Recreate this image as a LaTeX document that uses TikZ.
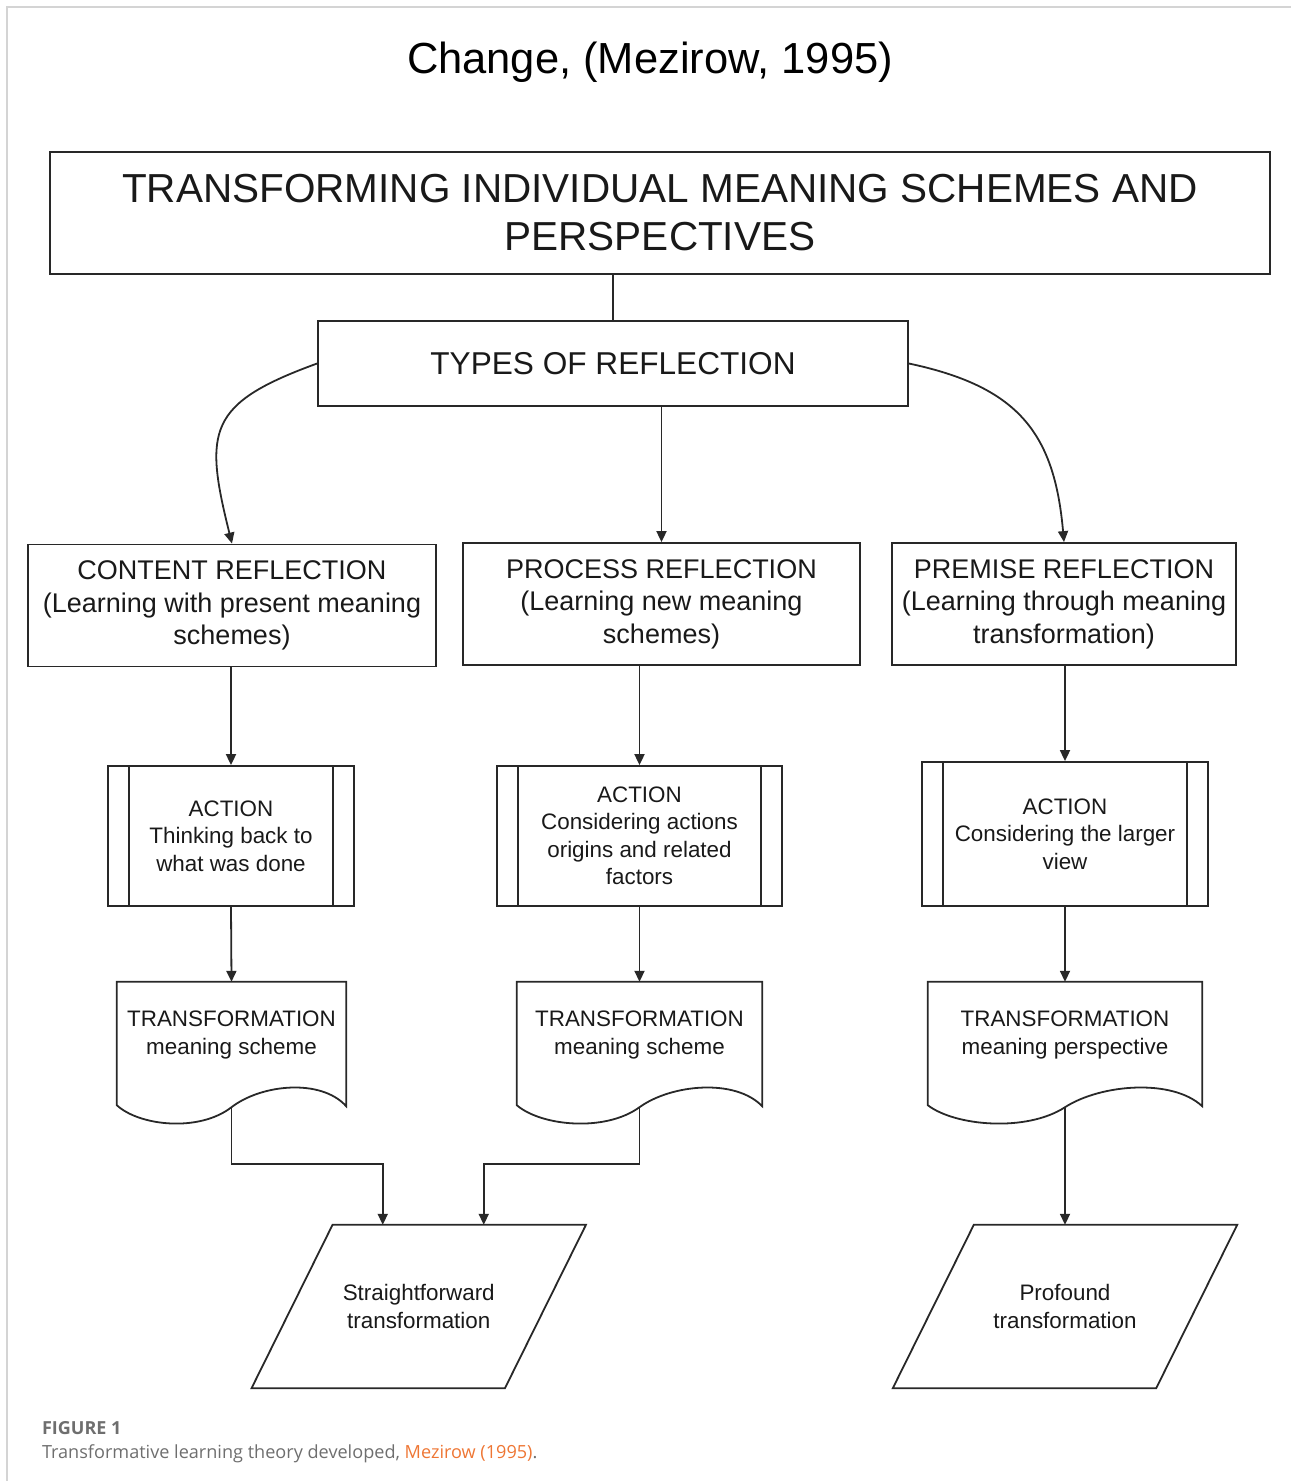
\documentclass[tikz,border=0pt]{standalone}
\usepackage{fontspec}
\setmainfont{Liberation Sans}
\newfontfamily\captionfont{Open Sans}
\usetikzlibrary{positioning, arrows.meta, shapes.geometric, calc}
\definecolor{flowline}{RGB}{40,40,40}
\definecolor{flowtext}{RGB}{25,25,25}
\definecolor{framegray}{RGB}{212,212,212}
\definecolor{capgray}{RGB}{110,110,110}
\definecolor{citeorange}{RGB}{238,118,52}

\begin{document}
\begin{tikzpicture}[x=1pt, y=-1pt,
  box/.style={draw=flowline, line width=1.8pt, inner sep=0pt, align=center, text=flowtext},
  reflbox/.style={box, minimum height=122pt, font=\fontsize{27}{32.5}\selectfont},
  actbox/.style={box, minimum height=140pt, font=\fontsize{22.4}{27.5}\selectfont,
    path picture={\draw[flowline, line width=1.8pt]
      ([xshift=21pt]path picture bounding box.north west) -- ([xshift=21pt]path picture bounding box.south west)
      ([xshift=-21pt]path picture bounding box.north east) -- ([xshift=-21pt]path picture bounding box.south east);}},
  docbox/.style={inner sep=0pt, minimum height=104pt, align=center, text=flowtext, font=\fontsize{22.4}{28}\selectfont},
  parabox/.style={inner sep=0pt, minimum width=334pt, minimum height=163pt, align=center, text=flowtext,
    font=\fontsize{22.4}{27.5}\selectfont},
  flowedge/.style={flowline, line width=1.8pt},
  arrow/.style={flowedge, -{Triangle[length=11pt, width=10pt]}}
]
  \useasboundingbox (0,0) rectangle (1291,1481);
  \draw[framegray, line width=2pt] (7,1481) -- (7,7) -- (1291,7);

  \node[anchor=base, font=\fontsize{43.5}{50}\selectfont] (title) at (650,73) {Change, (Mezirow, 1995)};

  \node[box, minimum width=1220pt, minimum height=122pt, font=\fontsize{40.5}{48}\selectfont] (top) at (660,213)
    {TRANSFORMING INDIVIDUAL MEANING SCHEMES AND\\PERSPECTIVES};
  \node[box, minimum width=590pt, minimum height=85pt, font=\fontsize{31.6}{38}\selectfont] (types) at (613,363.5)
    {TYPES OF REFLECTION};

  \node[reflbox, minimum width=408pt] (content) at (232,605.5) {CONTENT REFLECTION\\(Learning with present meaning\\schemes)};
  \node[reflbox, minimum width=397pt] (process) at (661.5,604) {PROCESS REFLECTION\\(Learning new meaning\\schemes)};
  \node[reflbox, minimum width=344pt] (premise) at (1064,604) {PREMISE REFLECTION\\(Learning through meaning\\transformation)};

  \node[actbox, minimum width=246pt] (act1) at (231,836) {ACTION\\Thinking back to\\what was done};
  \node[actbox, minimum width=285pt] (act2) at (639.5,836) {ACTION\\Considering actions\\origins and related\\factors};
  \node[actbox, minimum width=286pt, minimum height=144pt] (act3) at (1065,834) {ACTION\\Considering the larger\\view};

  \node[docbox, minimum width=229pt] (doc1) at (231.5,1035) {TRANSFORMATION\\meaning scheme};
  \node[docbox, minimum width=245pt] (doc2) at (639.5,1035) {TRANSFORMATION\\meaning scheme};
  \node[docbox, minimum width=274pt] (doc3) at (1065,1035) {TRANSFORMATION\\meaning perspective};

  % document outlines with wavy bottom
  \foreach \d in {doc1,doc2,doc3}
    \draw[flowedge] ([yshift=-19pt]\d.south east) -- ([yshift=1pt]\d.north east) -- ([yshift=1pt]\d.north west) -- ([yshift=-18pt]\d.south west)
      .. controls ($(\d.south west)!0.10!(\d.south east)+(0pt,-39pt)$) and ($(\d.south west)!0.36!(\d.south east)+(0pt,-45pt)$) .. ([yshift=-20pt]\d.south)
      .. controls ($(\d.south west)!0.63!(\d.south east)+(0pt,3pt)$) and ($(\d.south west)!0.89!(\d.south east)+(0pt,9pt)$) .. cycle;

  \node[parabox] (para1) at (418.75,1306.5) {Straightforward\\transformation};
  \node[parabox, minimum width=344pt] (para2) at (1065,1306.5) {Profound\\transformation};

  % slanted input/output outlines
  \foreach \p in {para1,para2}
    \draw[flowedge] (\p.south west) -- ([xshift=81pt]\p.north west) -- (\p.north east) -- ([xshift=-81pt]\p.south east) -- cycle;

  \draw[flowedge] (types.north) -- (types.north |- top.south);
  \draw[arrow] (types.west) to[out=200, in=104, looseness=1.5] (content.north);
  \draw[arrow] (types.south -| process.north) -- (process.north);
  \draw[arrow] (types.east) to[out=-12, in=95, looseness=1.2] (premise.north);

  \draw[arrow] (content.south -| act1.north) -- (act1.north);
  \draw[arrow] (process.south -| act2.north) -- (act2.north);
  \draw[arrow] (premise.south -| act3.north) -- (act3.north);

  \draw[arrow] (act1.south) -- ([yshift=1pt]doc1.north);
  \draw[arrow] (act2.south) -- ([yshift=1pt]doc2.north);
  \draw[arrow] (act3.south) -- ([yshift=1pt]doc3.north);

  \draw[arrow] ([yshift=-20pt]doc1.south) -- ++(0,57) -| ([xshift=-36pt]para1.north);
  \draw[arrow] ([yshift=-20pt]doc2.south) -- ++(0,57) -| ([xshift=65pt]para1.north);
  \draw[arrow] ([yshift=-20pt]doc3.south) -- (doc3.south |- para2.north);

  \node[anchor=base west, text=capgray, font=\captionfont\bfseries\fontsize{18}{21}\selectfont] (fig) at (38.5,1434) {FIGURE 1};
  \node[anchor=base west, text=capgray, font=\captionfont\fontsize{18.1}{21}\selectfont] (cap) at (38.5,1458)
    {Transformative learning theory developed, \textcolor{citeorange}{Mezirow (1995)}.};
\end{tikzpicture}
\end{document}
